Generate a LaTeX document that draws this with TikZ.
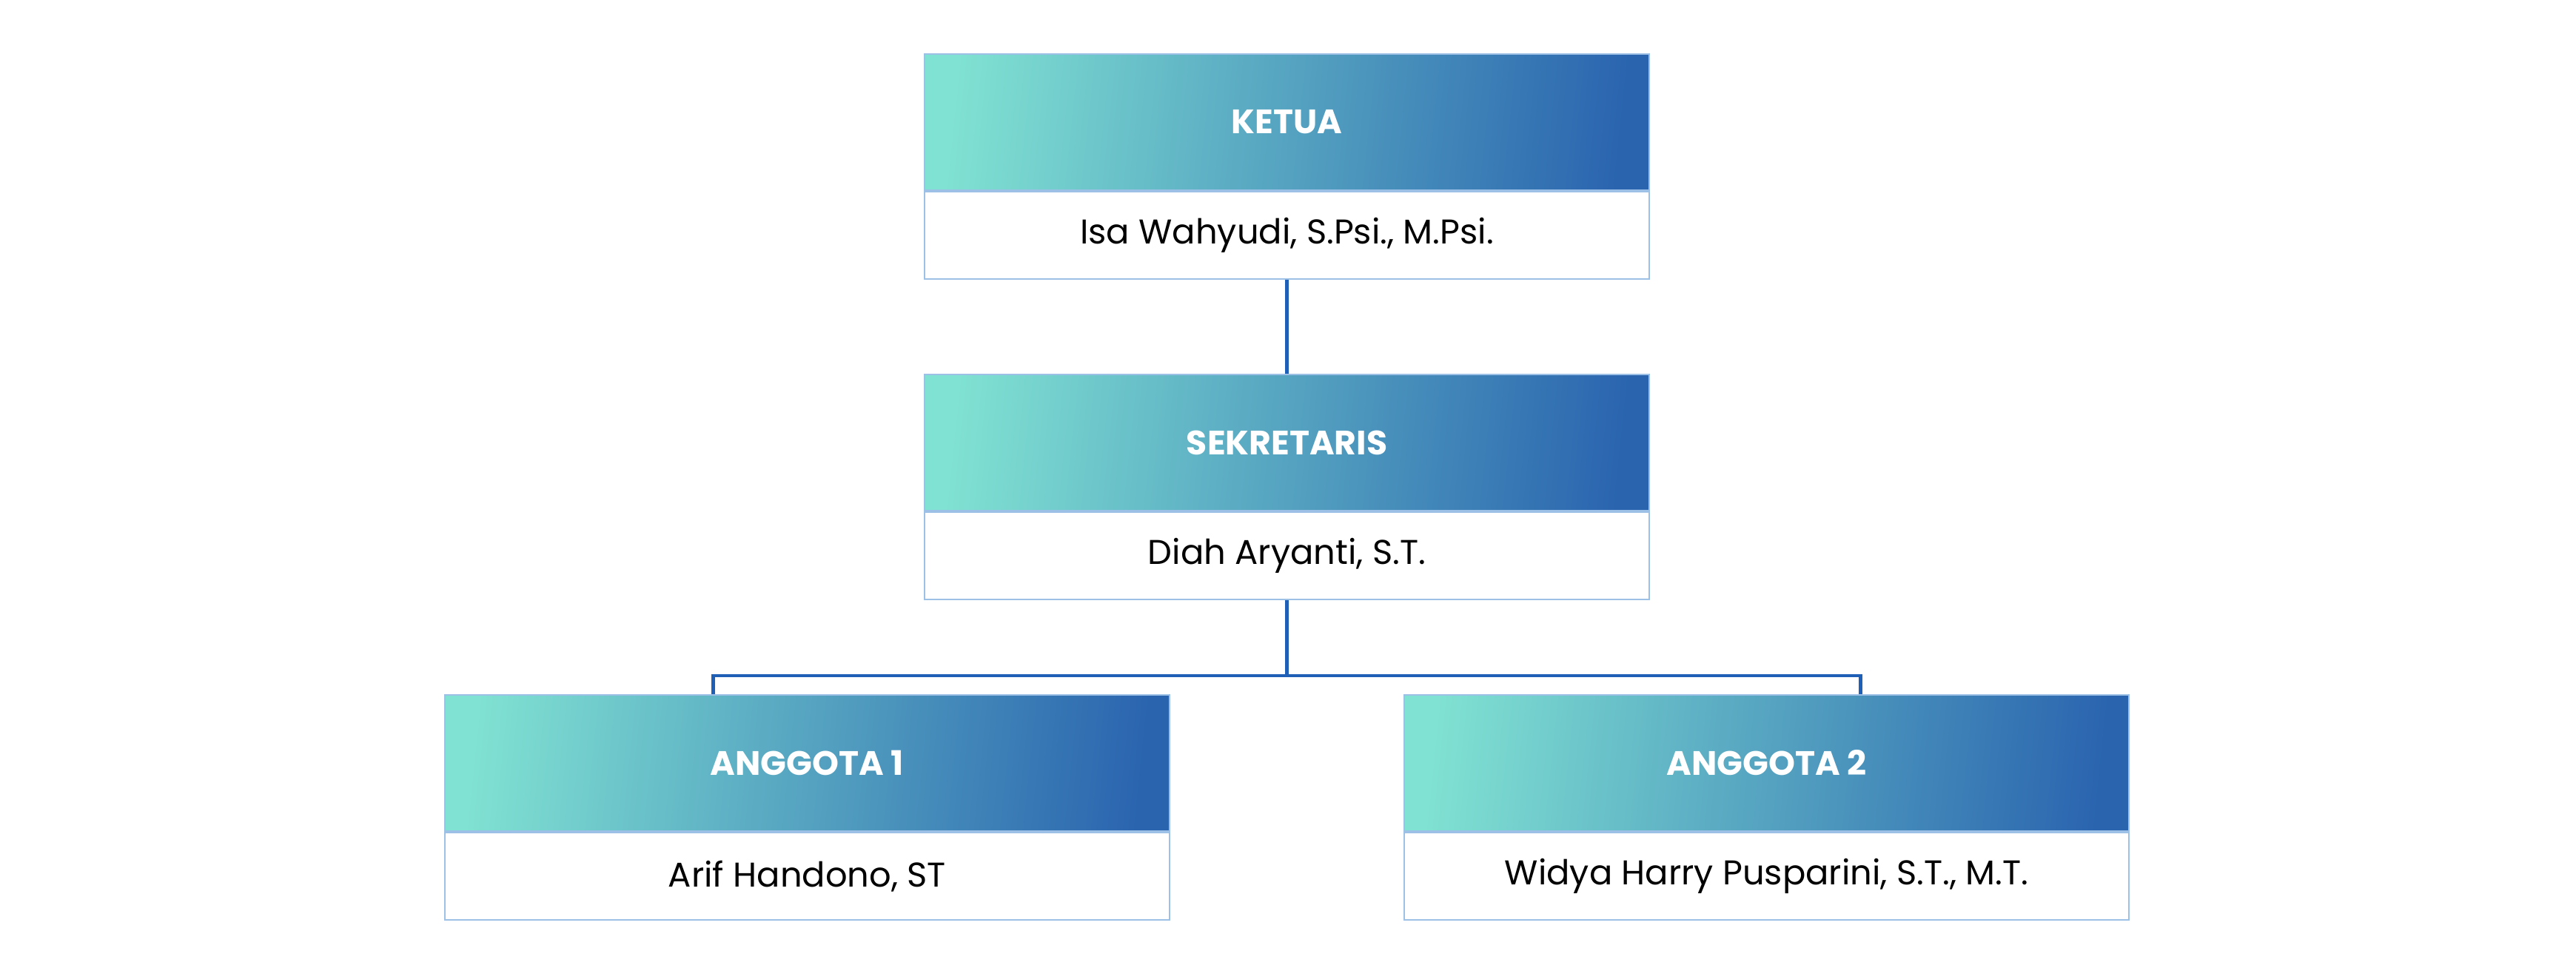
\documentclass[tikz,border=0pt]{standalone}
\usepackage{fontspec}
\setmainfont{Poppins}
\usetikzlibrary{positioning}
\definecolor{tosca}{HTML}{80E2D2}
\definecolor{biru}{HTML}{2A64AF}
\definecolor{garis}{HTML}{1F5FB5}
\definecolor{bingkai}{HTML}{9CC0E6}
\tikzset{
	jabatan/.style={rectangle, draw=bingkai, line width=0.6pt, left color=tosca, right color=biru, shading angle=84,
		minimum width=9.79cm, minimum height=1.84cm, inner sep=0pt,
		text=white, font=\fontsize{13}{15}\selectfont\bfseries},
	nama/.style={rectangle, draw=bingkai, line width=0.6pt, fill=white,
		minimum width=9.79cm, minimum height=1.18cm, inner sep=0pt,
		font=\fontsize{13.2}{15}\selectfont},
	link/.style={draw=garis, line width=1.2pt}
}
\begin{document}
\begin{tikzpicture}
	\useasboundingbox (0,0) rectangle (34.8,13.08);
	% kotak jabatan
	\node[jabatan] (ketua) at (17.385,11.43) {KETUA};
	\node[nama, below=0pt of ketua] (ketuaNama) {Isa Wahyudi, S.Psi., M.Psi.};
	
	\node[jabatan] (sekretaris) at (17.385,7.10) {SEKRETARIS};
	\node[nama, below=0pt of sekretaris] (sekretarisNama) {Diah Aryanti, S.T.};
	
	\node[jabatan] (anggotaA) at (10.905,2.77) {ANGGOTA 1};
	\node[nama, below=0pt of anggotaA] (anggotaANama) {Arif Handono, ST};
	
	\node[jabatan] (anggotaB) at (23.865,2.77) {ANGGOTA 2};
	\node[nama, below=0pt of anggotaB] (anggotaBNama) {Widya Harry Pusparini, S.T., M.T.};
	
	% garis penghubung
	\draw[link] (ketuaNama.south) -- (sekretaris.north);
	\draw[link] (sekretarisNama.south) -- ++(0,-1.02) coordinate (cabang);
	\draw[link] ([xshift=-1.27cm]anggotaA.north) |- (cabang) -| ([xshift=1.27cm]anggotaB.north);
	
\end{tikzpicture}
\end{document}
